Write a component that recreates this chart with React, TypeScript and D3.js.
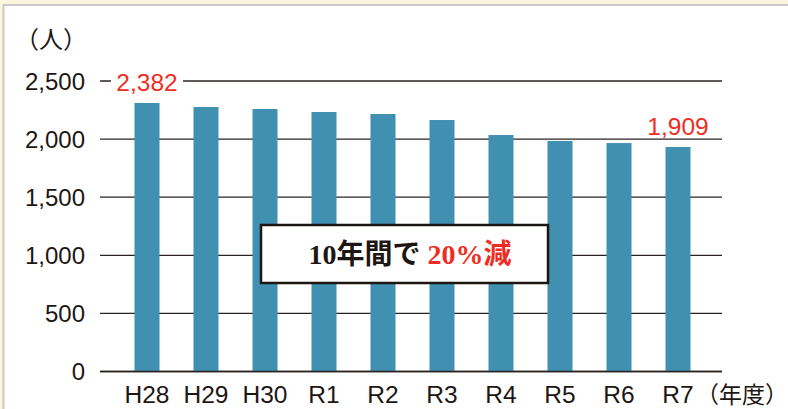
import React, { useRef, useEffect } from "react";
import * as d3 from "d3";

const years = ["H28", "H29", "H30", "R1", "R2", "R3", "R4", "R5", "R6", "R7"];
const members = [2311, 2276, 2259, 2233, 2216, 2164, 2035, 1984, 1966, 1932];
const yTicks = [0, 500, 1000, 1500, 2000, 2500];
const callouts = [
  { year: "H28", text: "2,382" },
  { year: "R7", text: "1,909" },
];

const App = () => {
  const chartRef = useRef<SVGSVGElement | null>(null);

  const width = 788;
  const height = 409;
  const sans = "'Liberation Sans', Arial, Helvetica, sans-serif";
  const cjk = "'Noto Sans CJK JP', sans-serif";

  useEffect(() => {
    const svg = d3.select(chartRef.current);
    svg.selectAll("*").remove();

    // frame
    svg.append("rect").attr("width", width).attr("height", height).attr("fill", "#fcf6dc");
    svg
      .append("rect")
      .attr("x", 3.5)
      .attr("y", 5)
      .attr("width", width + 10)
      .attr("height", height + 10)
      .attr("fill", "#ffffff")
      .attr("stroke", "#c9c9c9")
      .attr("stroke-width", 2);

    const x = d3
      .scaleBand()
      .domain(years)
      .range([117.5, 707.5])
      .paddingInner(34 / 59)
      .paddingOuter(17 / 59);
    const y = d3.scaleLinear().domain([0, 2500]).range([371.5, 81]);

    // grid lines
    svg
      .selectAll("line.grid")
      .data(yTicks)
      .enter()
      .append("line")
      .attr("class", "grid")
      .attr("x1", 100)
      .attr("x2", 722)
      .attr("y1", (d) => y(d))
      .attr("y2", (d) => y(d))
      .attr("stroke", "#2a2320")
      .attr("stroke-width", 1.3);

    svg
      .selectAll("text.ytick")
      .data(yTicks)
      .enter()
      .append("text")
      .attr("class", "ytick")
      .attr("x", 85)
      .attr("y", (d) => y(d))
      .attr("dy", "0.36em")
      .attr("text-anchor", "end")
      .style("font-family", sans)
      .style("font-size", "24px")
      .attr("fill", "#1e1612")
      .text((d) => d3.format(",")(d));

    // bars
    svg
      .selectAll("rect.bar")
      .data(members)
      .enter()
      .append("rect")
      .attr("class", "bar")
      .attr("x", (d, i) => x(years[i]) as number)
      .attr("width", x.bandwidth())
      .attr("y", (d) => y(d))
      .attr("height", (d) => y(0) - y(d))
      .attr("fill", "#4090b2");

    // baseline drawn again over bars
    svg
      .append("line")
      .attr("x1", 100)
      .attr("x2", 722)
      .attr("y1", y(0))
      .attr("y2", y(0))
      .attr("stroke", "#2a2320")
      .attr("stroke-width", 1.3);

    svg
      .selectAll("text.xtick")
      .data(years)
      .enter()
      .append("text")
      .attr("class", "xtick")
      .attr("x", (d) => (x(d) as number) + x.bandwidth() / 2)
      .attr("y", 403)
      .attr("text-anchor", "middle")
      .style("font-family", sans)
      .style("font-size", "24.5px")
      .attr("fill", "#1e1612")
      .text((d) => d);

    // red callouts
    callouts.forEach((c) => {
      const i = years.indexOf(c.year);
      const cx = (x(c.year) as number) + x.bandwidth() / 2;
      const cy = y(members[i]) - 21;
      const g = svg.append("g");
      g.append("rect")
        .attr("x", cx - 36)
        .attr("y", cy - 12)
        .attr("width", 72)
        .attr("height", 24)
        .attr("fill", i === 0 ? "#ffffff" : "none");
      g.append("text")
        .attr("x", cx)
        .attr("y", cy)
        .attr("dy", "0.36em")
        .attr("text-anchor", "middle")
        .style("font-family", sans)
        .style("font-size", "24.5px")
        .attr("fill", "#ee2e24")
        .text(c.text);
    });

    // units
    svg
      .append("text")
      .attr("x", 15)
      .attr("y", 48)
      .style("font-family", cjk)
      .style("font-size", "24px")
      .attr("fill", "#1e1612")
      .text("（人）");
    svg
      .append("text")
      .attr("x", 696)
      .attr("y", 403)
      .style("font-family", cjk)
      .style("font-size", "23px")
      .attr("fill", "#1e1612")
      .text("（年度）");

    // message box
    svg
      .append("rect")
      .attr("x", 261)
      .attr("y", 225)
      .attr("width", 287)
      .attr("height", 58)
      .attr("fill", "#ffffff")
      .attr("stroke", "#1e1612")
      .attr("stroke-width", 2.5);
    const msg = svg
      .append("text")
      .attr("x", 410)
      .attr("y", 254)
      .attr("dy", "0.36em")
      .attr("text-anchor", "middle")
      .style("font-family", "'Liberation Serif', 'Noto Sans CJK JP', serif")
      .style("font-size", "28px")
      .style("font-weight", "bold");
    msg.append("tspan").attr("fill", "#1e1612").text("10年間で ");
    msg.append("tspan").attr("fill", "#ee2e24").text("20%減");
  }, []);

  return (
    <svg
      ref={chartRef}
      width={width}
      height={height}
      style={{ position: "absolute", left: 0, top: 0, display: "block" }}
    ></svg>
  );
};

export default App;
